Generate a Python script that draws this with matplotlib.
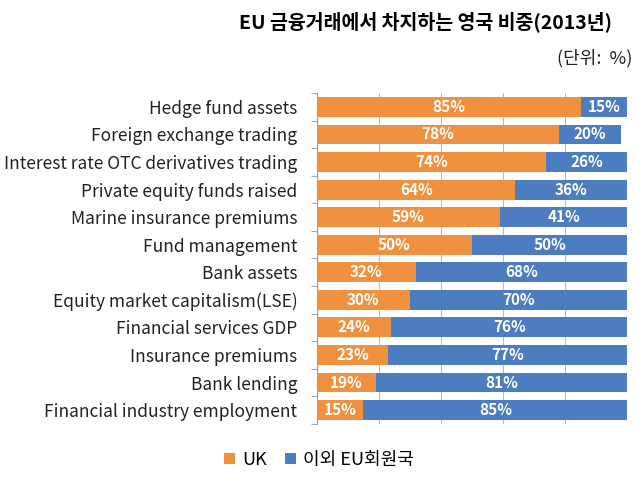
import matplotlib
matplotlib.use("Agg")
import matplotlib.pyplot as plt
import numpy as np

plt.rcParams['font.family'] = ['Noto Sans CJK KR', 'DejaVu Sans']

categories = [
    "Hedge fund assets",
    "Foreign exchange trading",
    "Interest rate OTC derivatives trading",
    "Private equity funds raised",
    "Marine insurance premiums",
    "Fund management",
    "Bank assets",
    "Equity market capitalism(LSE)",
    "Financial services GDP",
    "Insurance premiums",
    "Bank lending",
    "Financial industry employment",
]
uk = [85, 78, 74, 64, 59, 50, 32, 30, 24, 23, 19, 15]
rest_eu = [15, 20, 26, 36, 41, 50, 68, 70, 76, 77, 81, 85]
series_names = ["UK", "이외 EU회원국"]

orange = "#F0913F"
blue = "#4C7DC0"

fig = plt.figure(figsize=(6.4, 4.8), dpi=100)
ax = fig.add_axes([0.495, 0.117, 0.485, 0.689])

y = np.arange(len(categories))
h = 0.72
b1 = ax.barh(y, uk, height=h, color=orange, label=series_names[0], zorder=3)
b2 = ax.barh(y, rest_eu, left=uk, height=h, color=blue, label=series_names[1], zorder=3)

for i in range(len(categories)):
    ax.text(uk[i] / 2, y[i], f"{uk[i]}%", ha='center', va='center',
            color='white', fontsize=11, fontweight='bold', zorder=4)
    ax.text(uk[i] + rest_eu[i] / 2, y[i], f"{rest_eu[i]}%", ha='center', va='center',
            color='white', fontsize=11, fontweight='bold', zorder=4)

ax.set_xlim(0, 100)
ax.set_ylim(len(categories) - 0.5, -0.5)
ax.set_yticks(y)
ax.set_yticklabels(categories, fontsize=12.5, color='#222222')
ax.set_yticks(np.arange(len(categories) + 1) - 0.5, minor=True)
ax.tick_params(axis='y', which='major', length=0, pad=14)
ax.tick_params(axis='y', which='minor', length=4, color='#999999', direction='out')
ax.set_xticks([0, 20, 40, 60, 80, 100])
ax.tick_params(axis='x', length=0, labelbottom=False)
ax.xaxis.grid(True, color='#bbbbbb', linewidth=0.8, zorder=0)

for s in ['top', 'right', 'bottom']:
    ax.spines[s].set_visible(False)
ax.spines['left'].set_color('#999999')

fig.text(0.956, 0.955, "EU 금융거래에서 차지하는 영국 비중(2013년)", ha='right', va='center',
         fontsize=14, fontweight='bold', color='black')
fig.text(0.988, 0.878, "(단위:  %)", ha='right', va='center', fontsize=13, color='#222222')

fig.legend(handles=[b1, b2], labels=series_names, loc='center left',
           bbox_to_anchor=(0.325, 0.042), ncol=2, frameon=False, fontsize=13,
           handlelength=0.6, handleheight=0.6, handletextpad=0.4, columnspacing=1.0)

fig.savefig("out.png", dpi=100)
